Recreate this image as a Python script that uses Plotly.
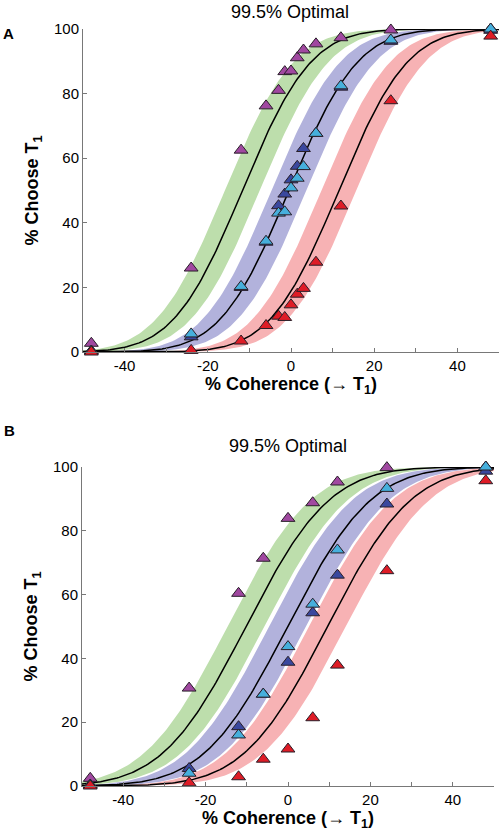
import math
import plotly.graph_objects as go

# ---------------- data ----------------
coh_A = [-48, -24, -12, -6, -3, -1.5, 0, 1.5, 3, 6, 12, 24, 48]
purple_A = [2.7, 26, 62.5, 76.2, 81, 86.8, 87, 91.1, 93.5, 95.4, 97.3, 99.7, 100]
blue_A = [0.3, 4.7, 20, 34, 45.3, 48.9, 53.3, 57.5, 63, 67.7, 82, 96.2, 99.6]
cyan_A = [0.3, 5.6, 20.3, 34.3, 43, 43.4, 50.8, 53.8, 57.4, 67.7, 82.4, 96.6, 100]
red_A = [0, 0.5, 3.4, 8.2, 11.1, 10.7, 14.6, 17.9, 19.7, 27.8, 45.2, 77.8, 97.8]

coh_B = [-48, -24, -12, -6, 0, 6, 12, 24, 48]
purple_B = [2.4, 30.7, 60.4, 71.4, 83.9, 88.8, 95.3, 99.8, 100]
blue_B = [0.3, 5.5, 18.6, 28.8, 38.8, 54.3, 66.1, 88.4, 98.7]
cyan_B = [0.3, 4.0, 16.0, 28.8, 43.7, 57.0, 74.0, 93.3, 100]
red_B = [0, 1.0, 2.9, 8.4, 11.6, 21.4, 37.9, 67.5, 95.7]

# fitted psychometric model parameters (cumulative Gaussian)
mu_A = [-11.7, -0.5, 11.5]
sigma_A = 13.0
band_A = 4.2
mu_B = [-10.2, -0.1, 9.6]
sigma_B = 16.0
band_B = 4.5

x_ticks = [-50, -40, -30, -20, -10, 0, 10, 20, 30, 40, 50]
x_ticktext = ["", "-40", "", "-20", "", "0", "", "20", "", "40", ""]
y_ticks = [0, 20, 40, 60, 80, 100]
y_ticktext = ["0", "20", "40", "60", "80", "100"]

title_text = "99.5% Optimal"
xlabel = "<b>% Coherence (\u2192 T<sub>1</sub>)</b>"
ylabel = "<b>% Choose T<sub>1</sub></b>"

# ---------------- styles ----------------
band_colors = ["rgb(189,222,172)", "rgb(178,178,220)", "rgb(247,178,180)"]
marker_colors = {
    "purple": "rgb(160,72,160)",
    "blue": "rgb(58,72,158)",
    "cyan": "rgb(70,175,220)",
    "red": "rgb(222,28,38)",
}
FONT = "Liberation Sans, Arial, sans-serif"
AXIS_GRAY = "rgb(120,120,120)"

grid = [-50 + i * 0.5 for i in range(201)]


def psy(x, mu, s):
    return 50.0 * (1.0 + math.erf((x - mu) / (s * math.sqrt(2.0))))


fig = go.Figure()


def add_panel(xa, ya, mus, sigma, half, coh, series):
    # bands
    for mu, col in zip(mus, band_colors):
        upper = [psy(x, mu - half, sigma) for x in grid]
        lower = [psy(x, mu + half, sigma) for x in grid]
        fig.add_trace(go.Scatter(
            x=grid + grid[::-1], y=upper + lower[::-1], fill="toself",
            fillcolor=col, line=dict(width=0), mode="lines",
            hoverinfo="skip", showlegend=False, xaxis=xa, yaxis=ya))
    # curves
    for mu in mus:
        fig.add_trace(go.Scatter(
            x=grid, y=[psy(x, mu, sigma) for x in grid], mode="lines",
            line=dict(color="black", width=1.5), showlegend=False,
            xaxis=xa, yaxis=ya))
    # data points
    for name, vals in series:
        fig.add_trace(go.Scatter(
            x=coh, y=vals, mode="markers", cliponaxis=False,
            marker=dict(symbol="triangle-up", size=12, color=marker_colors[name],
                        line=dict(color="rgb(40,30,40)", width=1)),
            showlegend=False, xaxis=xa, yaxis=ya))


add_panel("x", "y", mu_A, sigma_A, band_A, coh_A,
          [("purple", purple_A), ("blue", blue_A), ("cyan", cyan_A), ("red", red_A)])
add_panel("x2", "y2", mu_B, sigma_B, band_B, coh_B,
          [("purple", purple_B), ("blue", blue_B), ("cyan", cyan_B), ("red", red_B)])

W, H = 502, 832


def xaxis_cfg(dom, anchor):
    return dict(domain=dom, anchor=anchor, range=[-50, 50], tickmode="array",
                tickvals=x_ticks, ticktext=x_ticktext, ticks="inside", ticklen=4,
                tickcolor=AXIS_GRAY, showline=True, linecolor=AXIS_GRAY, linewidth=1,
                showgrid=False, zeroline=False, automargin=False,
                tickfont=dict(size=15, color="black"),
                title=dict(text=xlabel, font=dict(size=18, color="black"), standoff=0))


def yaxis_cfg(dom, anchor):
    return dict(domain=dom, anchor=anchor, range=[0, 100], tickmode="array",
                tickvals=y_ticks, ticktext=y_ticktext, ticks="inside", ticklen=4,
                tickcolor=AXIS_GRAY, showline=True, linecolor=AXIS_GRAY, linewidth=1,
                showgrid=False, zeroline=False, automargin=False,
                tickfont=dict(size=15, color="black"),
                title=dict(text=ylabel, font=dict(size=18, color="black"), standoff=10))


fig.update_layout(
    width=W, height=H, margin=dict(l=0, r=0, t=0, b=0, autoexpand=False),
    paper_bgcolor="white", plot_bgcolor="white",
    font=dict(family=FONT, color="black"),
    xaxis=xaxis_cfg([83 / W, 499 / W], "y"),
    yaxis=yaxis_cfg([1 - 352 / H, 1 - 29 / H], "x"),
    xaxis2=xaxis_cfg([82 / W, 494 / W], "y2"),
    yaxis2=yaxis_cfg([1 - 786 / H, 1 - 467 / H], "x2"),
    annotations=[
        dict(text=title_text, x=290 / W, y=1 - 12 / H, xref="paper", yref="paper",
             showarrow=False, font=dict(size=18, color="black"), xanchor="center", yanchor="middle"),
        dict(text=title_text, x=288 / W, y=1 - 446 / H, xref="paper", yref="paper",
             showarrow=False, font=dict(size=18, color="black"), xanchor="center", yanchor="middle"),
        dict(text="<b>A</b>", x=8 / W, y=1 - 34 / H, xref="paper", yref="paper",
             showarrow=False, font=dict(size=15, color="black"), xanchor="center", yanchor="middle"),
        dict(text="<b>B</b>", x=9 / W, y=1 - 430 / H, xref="paper", yref="paper",
             showarrow=False, font=dict(size=15, color="black"), xanchor="center", yanchor="middle"),
    ],
)

fig.write_html(
    "out.html",
    config={"displayModeBar": False},
    post_script="document.body.style.margin='0';document.body.style.padding='0';"
                "document.body.style.overflow='hidden';",
)
